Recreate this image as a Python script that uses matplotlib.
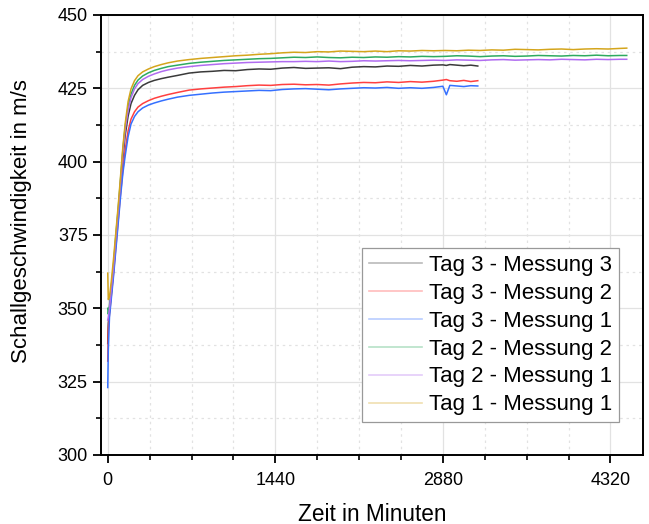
import matplotlib
matplotlib.use("Agg")
import matplotlib.pyplot as plt
from matplotlib.ticker import MultipleLocator

plt.rcParams['font.family'] = ['Liberation Sans', 'DejaVu Sans']

# time axis (minutes)
t_tag3 = [0, 5, 15, 30, 50, 70, 90, 110, 130, 150, 175, 200, 230, 260, 300, 350, 400, 460, 520,
          600, 700, 800, 900, 1000, 1100, 1200, 1300, 1400, 1500, 1600, 1700, 1800, 1900, 2000,
          2100, 2200, 2300, 2400, 2500, 2600, 2700, 2800,
          2880, 2910, 2940, 3000, 3060, 3120, 3180]
t_long = [0, 5, 15, 30, 50, 70, 90, 110, 130, 150, 175, 200, 230, 260, 300, 350, 400, 460, 520,
          600, 700, 800, 900, 1000, 1100, 1200, 1300, 1400, 1500, 1600, 1700, 1800, 1900, 2000,
          2100, 2200, 2300, 2400, 2500, 2600, 2700, 2800, 2900, 3000, 3100, 3200, 3300, 3400,
          3500, 3600, 3700, 3800, 3900, 4000, 4100, 4200, 4300, 4400, 4460]

# Tag 3 - Messung 3
tag3_m3 = [338, 345, 349, 355, 363, 373, 382, 392, 401, 409, 415.5, 419.8, 422.6, 424.5, 426.0,
           427.0, 427.7, 428.3, 428.8,
           429.4, 430.2, 430.6, 430.8, 431.1, 431.0, 431.4, 431.6, 431.5, 431.9, 432.1, 431.8,
           431.9, 432.0, 431.7, 432.2, 432.4, 432.3, 432.6, 432.5, 432.8, 432.6, 432.9,
           433.0, 432.8, 433.1, 432.9, 432.7, 432.9, 432.6]
# Tag 3 - Messung 2
tag3_m2 = [332, 343, 348, 354, 362, 371, 380, 389, 397, 404, 410.5, 414.5, 417.0, 418.6, 419.8,
           420.8, 421.6, 422.3, 422.9,
           423.6, 424.4, 424.8, 425.1, 425.4, 425.6, 425.9, 426.1, 426.0, 426.3, 426.4, 426.2,
           426.3, 426.1, 426.5, 426.8, 427.0, 426.9, 427.2, 427.0, 427.3, 427.1, 427.4,
           427.8, 428.0, 427.6, 427.4, 427.7, 427.3, 427.6]
# Tag 3 - Messung 1
tag3_m1 = [323, 336, 347, 353, 361, 370, 379, 388, 396, 402, 408.5, 412.8, 415.4, 417.0, 418.3,
           419.3, 420.0, 420.7, 421.3,
           422.0, 422.6, 423.0, 423.4, 423.7, 423.9, 424.1, 424.3, 424.2, 424.6, 424.8, 424.9,
           424.7, 424.5, 424.8, 425.0, 425.2, 425.1, 425.3, 425.0, 425.2, 425.0, 425.3,
           425.7, 422.8, 426.0, 425.8, 425.6, 425.9, 425.8]
# Tag 2 - Messung 2
tag2_m2 = [350, 348, 351, 357, 365, 375, 384, 394, 404, 412, 418.8, 423.0, 426.0, 427.8, 429.2,
           430.3, 431.1, 431.8, 432.4,
           432.9, 433.5, 433.9, 434.2, 434.5, 434.7, 434.9, 435.1, 435.2, 435.4,
           435.6, 435.5, 435.7, 435.5, 435.4, 435.6, 435.5, 435.7, 435.6, 435.8,
           435.7, 435.9, 435.8, 435.9, 436.1, 436.0, 435.8, 436.0, 436.1, 435.9,
           436.0, 436.2, 436.1, 436.0, 436.2, 436.1, 436.3, 436.1, 436.2, 436.2]
# Tag 2 - Messung 1
tag2_m1 = [346, 347, 350, 356, 364, 374, 383, 393, 403, 411, 417.5, 421.8, 424.8, 426.6, 428.0,
           429.1, 429.9, 430.7, 431.3,
           431.9, 432.4, 432.8, 433.1, 433.4, 433.6, 433.8, 433.9, 434.0, 434.1,
           434.1, 434.2, 434.1, 434.3, 434.1, 434.2, 434.4, 434.3, 434.4, 434.5,
           434.4, 434.5, 434.6, 434.5, 434.7, 434.6, 434.5, 434.7, 434.8, 434.6,
           434.7, 434.8, 434.7, 434.9, 434.8, 434.7, 434.9, 434.8, 434.9, 434.9]
# Tag 1 - Messung 1
tag1_m1 = [362, 353, 354, 359, 367, 376, 385, 395, 405, 413, 420.5, 424.8, 427.6, 429.3, 430.6,
           431.6, 432.4, 433.1, 433.7,
           434.3, 434.8, 435.2, 435.5, 435.8, 436.1, 436.3, 436.6, 436.8, 437.1,
           437.3, 437.2, 437.5, 437.4, 437.7, 437.6, 437.5, 437.7, 437.5, 437.8,
           437.7, 437.9, 437.8, 437.9, 437.8, 438.0, 437.9, 438.1, 438.0, 438.3,
           438.2, 438.1, 438.3, 438.4, 438.2, 438.4, 438.5, 438.4, 438.6, 438.7]

fig = plt.figure(figsize=(6.49, 5.24), dpi=100)
ax = fig.add_axes([0.1556, 0.1317, 0.8352, 0.8397])

lw = 1.1
ax.plot(t_tag3, tag3_m3, color='#3a3a3a', lw=lw, label='Tag 3 - Messung 3')
ax.plot(t_tag3, tag3_m2, color='#ff4040', lw=lw, label='Tag 3 - Messung 2')
ax.plot(t_tag3, tag3_m1, color='#3570ff', lw=lw, label='Tag 3 - Messung 1')
ax.plot(t_long, tag2_m2, color='#2eaa60', lw=lw, label='Tag 2 - Messung 2')
ax.plot(t_long, tag2_m1, color='#b06cf0', lw=lw, label='Tag 2 - Messung 1')
ax.plot(t_long, tag1_m1, color='#d4a51c', lw=lw, label='Tag 1 - Messung 1')

ax.set_xlim(-58, 4600)
ax.set_ylim(300, 450)
ax.set_xticks([0, 1440, 2880, 4320])
ax.xaxis.set_minor_locator(MultipleLocator(360))
ax.yaxis.set_major_locator(MultipleLocator(25))
ax.yaxis.set_minor_locator(MultipleLocator(12.5))

ax.grid(which='major', color='#e2e2e2', lw=0.9, ls='-')
ax.grid(which='minor', color='#e2e2e2', lw=0.9, ls=(0, (2, 3)))
ax.set_axisbelow(True)

ax.tick_params(which='major', direction='out', length=6, width=1.3, labelsize=13,
               top=False, right=False)
ax.tick_params(axis='x', which='major', pad=6)
ax.tick_params(which='minor', direction='out', length=3.5, width=1.2, top=False, right=False)
for s in ax.spines.values():
    s.set_linewidth(1.4)

ax.set_xlabel('Zeit in Minuten', fontsize=16.3, labelpad=10)
ax.set_ylabel('Schallgeschwindigkeit in m/s', fontsize=16)
ax.yaxis.set_label_coords(-0.127, 0.532)

leg = ax.legend(loc='lower right', bbox_to_anchor=(0.955, 0.075), borderaxespad=0,
                fontsize=16, fancybox=False, edgecolor='#999999', framealpha=1,
                handlelength=2.4, labelspacing=0.31, handletextpad=0.3, borderpad=0.3)
leg.get_frame().set_linewidth(0.9)
for line in leg.get_lines():
    line.set_alpha(0.35)
    line.set_linewidth(1.2)

fig.savefig('out.png', dpi=100)
